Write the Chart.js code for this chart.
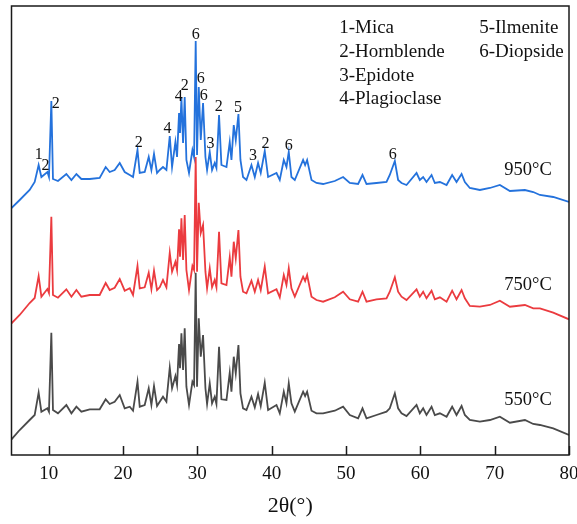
<!DOCTYPE html>
<html>
<head>
<meta charset="utf-8">
<title>XRD patterns</title>
<script src="https://cdn.jsdelivr.net/npm/chart.js@4.4.1/dist/chart.umd.min.js"></script>
<style>
  html, body { margin: 0; padding: 0; background: #ffffff; }
  #wrap { width: 577px; height: 524px; }
</style>
</head>
<body>
<div id="wrap"><canvas id="xrd" width="577" height="524"></canvas></div>
<script>
// Diffraction angle 2θ (degrees) shared by the three patterns
const twoTheta = [
  5.00, 6.10, 7.44, 8.12, 8.65, 9.02, 9.83, 10.04, 10.36, 10.58,
  11.25, 12.38, 13.06, 13.73, 14.40, 15.52, 16.86, 17.67, 18.21, 18.88,
  19.56, 20.23, 20.91, 21.35, 21.95, 22.25, 22.92, 23.46, 23.82, 24.17,
  24.58, 24.94, 25.38, 25.84, 26.29, 26.60, 27.05, 27.27, 27.54, 27.67,
  27.86, 28.08, 28.30, 28.53, 28.88, 29.34, 29.56, 29.78, 29.96, 30.19,
  30.46, 30.77, 31.09, 31.31, 31.67, 31.98, 32.34, 32.57, 32.92, 33.24,
  33.92, 34.36, 34.59, 34.90, 35.17, 35.53, 35.80, 36.15, 36.61, 37.28,
  37.73, 38.17, 38.53, 39.07, 39.52, 40.65, 41.09, 41.63, 41.99, 42.30,
  42.66, 43.11, 44.23, 44.50, 44.77, 45.36, 46.03, 46.92, 48.49, 49.61, 50.51,
  51.63, 52.22, 52.76, 54.10, 55.45, 55.89, 56.57, 57.01, 57.47, 58.14,
  59.49, 59.93, 60.38, 60.83, 61.51, 61.95, 62.63, 63.53, 64.28, 64.87,
  65.55, 65.99, 66.66, 68.01, 69.36, 70.70, 72.05, 74.07, 75.19, 76.09,
  77.88, 80.00
];

// Stacked intensities (a.u.) for each calcination temperature
const int550 = [
  157, 250, 350, 400, 623, 433, 467, 433, 1223, 450,
  417, 500, 417, 483, 433, 457, 457, 557, 510, 533,
  600, 467, 483, 443, 733, 483, 500, 667, 500, 690,
  490, 533, 583, 533, 873, 667, 790, 700, 1110, 867,
  1217, 850, 1267, 683, 500, 733, 700, 1823, 683, 1367,
  983, 1200, 667, 510, 717, 517, 583, 510, 1083, 557,
  550, 823, 633, 983, 817, 1100, 617, 467, 450, 583,
  477, 610, 490, 723, 450, 500, 417, 633, 517, 717,
  517, 433, 633, 590, 633, 443, 417, 417, 443, 483, 400,
  367, 467, 367, 400, 433, 467, 617, 467, 417, 390,
  500, 417, 467, 400, 483, 400, 417, 383, 483, 400,
  490, 400, 350, 333, 350, 383, 323, 350, 310, 300,
  267, 200
];
const int750 = [
  1317, 1400, 1520, 1570, 1790, 1583, 1660, 1620, 2383, 1600,
  1573, 1657, 1583, 1650, 1583, 1600, 1600, 1720, 1650, 1673,
  1760, 1643, 1667, 1600, 1890, 1667, 1677, 1823, 1657, 1843,
  1650, 1677, 1750, 1677, 2023, 1833, 1933, 1850, 2257, 1983,
  2367, 1950, 2400, 1850, 1650, 1890, 1850, 2980, 1833, 2523,
  2220, 2300, 1833, 1667, 1867, 1677, 1750, 1677, 2233, 1717,
  1700, 1977, 1783, 2133, 1967, 2250, 1783, 1633, 1617, 1743,
  1633, 1750, 1650, 1883, 1617, 1657, 1577, 1800, 1700, 1867,
  1667, 1583, 1783, 1740, 1800, 1583, 1550, 1533, 1577, 1633, 1557,
  1533, 1633, 1533, 1557, 1567, 1633, 1777, 1633, 1583, 1550,
  1657, 1583, 1633, 1567, 1643, 1557, 1577, 1533, 1643, 1557,
  1650, 1567, 1490, 1483, 1500, 1543, 1483, 1500, 1467, 1467,
  1423, 1357
];
const int950 = [
  2470, 2550, 2650, 2730, 2900, 2780, 2830, 2780, 3540, 2760,
  2740, 2810, 2750, 2810, 2760, 2760, 2770, 2880, 2830, 2850,
  2920, 2830, 2800, 2780, 3050, 2820, 2830, 2980, 2850, 3010,
  2820, 2850, 2880, 2850, 3190, 2880, 3130, 2980, 3420, 3220,
  3570, 3120, 3580, 2950, 2820, 3050, 2980, 4140, 3000, 3680,
  3150, 3520, 2980, 2850, 3030, 2850, 2920, 2870, 3400, 2900,
  2880, 3130, 2950, 3300, 3150, 3410, 2950, 2780, 2750, 2900,
  2780, 2920, 2820, 3040, 2780, 2820, 2750, 2950, 2880, 3030,
  2780, 2750, 2950, 2900, 2950, 2750, 2720, 2710, 2740, 2780, 2720,
  2710, 2800, 2710, 2720, 2730, 2800, 2940, 2750, 2720, 2700,
  2820, 2750, 2780, 2730, 2800, 2720, 2730, 2700, 2800, 2730,
  2810, 2730, 2670, 2650, 2670, 2700, 2640, 2650, 2630, 2600,
  2580, 2530
];

const tickValues = [10, 20, 30, 40, 50, 60, 70, 80];
const seriesNames = ['550°C', '750°C', '950°C'];
const seriesColors = ['#4a4a4a', '#eb3b3f', '#2472dc'];

// Temperature captions: 2θ position and intensity of each caption
const captionX = 74.5;
const captionY = [550, 1700, 2850];

// Phase markers above the 950°C pattern
const peakText = ['1', '2', '2', '2', '4', '4', '2', '6', '6', '6', '3', '2', '5', '3', '2', '6', '6'];
const peakX = [8.65, 9.56, 10.94, 22.11, 25.98, 27.50, 28.30, 29.78, 30.46, 30.86, 31.76, 32.88, 35.48, 37.50, 39.17, 42.30, 56.30];
const peakY = [3000, 2890, 3510, 3120, 3260, 3580, 3690, 4200, 3760, 3590, 3110, 3480, 3470, 2990, 3110, 3090, 3000];

// Phase key: two columns of entries
const keyCol1 = ['1-Mica', '2-Hornblende', '3-Epidote', '4-Plagioclase'];
const keyCol2 = ['5-Ilmenite', '6-Diopside'];
const keyColX = [49.08, 67.92];
const keyRowY = [4270, 4030, 3790, 3560];

const SERIF = '"Liberation Serif", "Times New Roman", serif';

const makePoints = (ys) => twoTheta.map((x, i) => ({ x: x, y: ys[i] }));

const decorPlugin = {
  id: 'xrdDecor',
  afterDatasetsDraw(chart) {
    const { ctx, chartArea, scales } = chart;
    const xs = scales.x, ys = scales.y;
    ctx.save();
    // frame
    ctx.strokeStyle = '#1a1a1a';
    ctx.lineWidth = 1.5;
    ctx.strokeRect(chartArea.left, chartArea.top, chartArea.right - chartArea.left, chartArea.bottom - chartArea.top);
    // inward tick marks on the bottom axis
    ctx.beginPath();
    tickValues.forEach(v => {
      const px = Math.round(xs.getPixelForValue(v)) + 0.5;
      ctx.moveTo(px, chartArea.bottom);
      ctx.lineTo(px, chartArea.bottom - 9);
    });
    ctx.stroke();

    ctx.fillStyle = '#111111';
    ctx.textBaseline = 'middle';
    // peak markers
    ctx.font = '16px ' + SERIF;
    ctx.textAlign = 'center';
    peakText.forEach((t, i) => {
      ctx.fillText(t, xs.getPixelForValue(peakX[i]), ys.getPixelForValue(peakY[i]));
    });
    // temperature captions
    ctx.font = '18.5px ' + SERIF;
    seriesNames.forEach((t, i) => {
      ctx.fillText(t, xs.getPixelForValue(captionX), ys.getPixelForValue(captionY[i]));
    });
    // phase key
    ctx.font = '19px ' + SERIF;
    ctx.textAlign = 'left';
    keyCol1.forEach((t, i) => {
      ctx.fillText(t, xs.getPixelForValue(keyColX[0]), ys.getPixelForValue(keyRowY[i]));
    });
    keyCol2.forEach((t, i) => {
      ctx.fillText(t, xs.getPixelForValue(keyColX[1]), ys.getPixelForValue(keyRowY[i]));
    });
    ctx.restore();
  }
};

new Chart(document.getElementById('xrd'), {
  type: 'line',
  data: {
    datasets: [int550, int750, int950].map((ys, i) => ({
      label: seriesNames[i],
      data: makePoints(ys),
      borderColor: seriesColors[i],
      borderWidth: 1.8,
      pointRadius: 0,
      tension: 0,
      fill: false
    }))
  },
  options: {
    responsive: false,
    animation: false,
    devicePixelRatio: 1,
    layout: { padding: { left: 11.5, right: 8, top: 6, bottom: 0 } },
    plugins: { legend: { display: false }, tooltip: { enabled: false } },
    scales: {
      x: {
        type: 'linear',
        min: 5,
        max: 80,
        grid: { display: false, drawTicks: false },
        border: { display: false },
        afterBuildTicks: (s) => { s.ticks = tickValues.map(v => ({ value: v })); },
        afterFit: (s) => { s.height = 69; s.paddingLeft = 0; s.paddingRight = 0; },
        ticks: {
          autoSkip: false,
          maxRotation: 0,
          padding: 8,
          color: '#111111',
          font: { family: SERIF, size: 19 }
        },
        title: {
          display: true,
          text: '2θ(°)',
          color: '#111111',
          font: { family: SERIF, size: 22 },
          padding: { top: 0, bottom: 5 }
        }
      },
      y: {
        display: false,
        min: 0,
        max: 4490
      }
    }
  },
  plugins: [decorPlugin]
});
</script>
</body>
</html>
